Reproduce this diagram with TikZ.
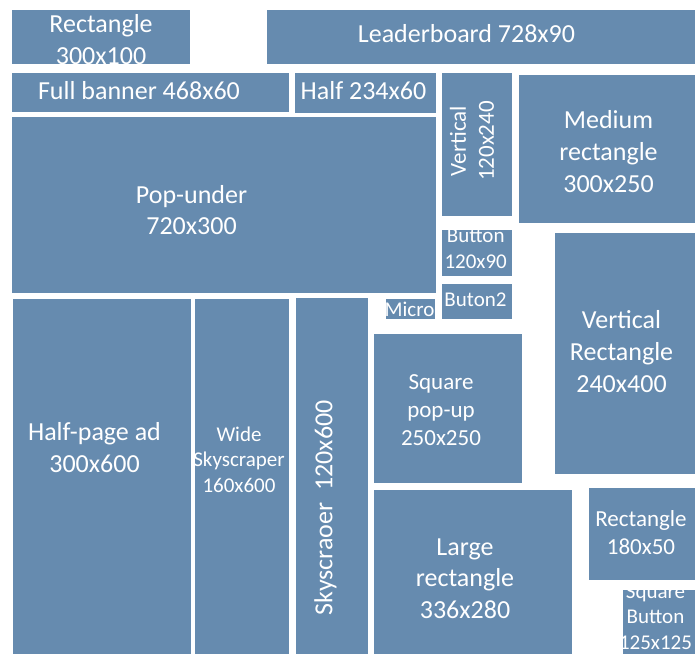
\documentclass[tikz,border=0pt]{standalone}
\usepackage{fontspec}
\setmainfont{Carlito}
\definecolor{Acolor}{RGB}{102, 139, 175}
\def\bigfont{\fontsize{26}{31.7}\selectfont}
\def\midfont{\fontsize{23}{28}\selectfont}
\def\smallfont{\fontsize{21}{25.6}\selectfont}

\begin{document}
\begin{tikzpicture}[x=1pt, y=-1pt,
    ad/.style={shape=rectangle, fill=Acolor, inner sep=0pt},
    adtext/.style={text=white, align=center, inner sep=0pt}]
    \useasboundingbox (0,0) rectangle (695,654);
    % top rows
    \node[ad, minimum width=178pt, minimum height=54pt] (rect30) at (101, 37) {};
    \node[ad, minimum width=428pt, minimum height=54pt] (leader) at (481, 37) {};
    \node[ad, minimum width=277pt, minimum height=39pt] (fullban) at (150.5, 92.5) {};
    \node[ad, minimum width=141pt, minimum height=40pt] (half) at (365.5, 93) {};
    \node[ad, minimum width=424pt, minimum height=176pt] (popunder) at (224, 205) {};
    \node[adtext, font=\bigfont] (rect30t) at (101, 39.5) {Rectangle\\300x100};
    \node[adtext, font=\bigfont] (leadert) at (466.5, 34) {Leaderboard 728x90};
    \node[adtext, font=\bigfont] (fullbant) at (139, 91) {Full banner 468x60};
    \node[adtext, font=\bigfont] (halft) at (363.5, 91) {Half 234x60};
    \node[adtext, font=\bigfont] (popundert) at (191.5, 210) {Pop-under\\720x300};
    % small column
    \node[ad, minimum width=70pt, minimum height=143pt] (vert) at (477, 144.5) {};
    \node[ad, minimum width=70pt, minimum height=46pt] (button) at (477, 253) {};
    \node[ad, minimum width=70pt, minimum height=35pt] (buton2) at (477, 301.5) {};
    \node[ad, minimum width=49pt, minimum height=20pt] (micro) at (410.5, 309) {};
    \node[adtext, font=\midfont, rotate=90] (vertt) at (472, 141) {Vertical\\120x240};
    \node[adtext, font=\smallfont] (buttont) at (475.7, 249) {Button\\120x90};
    \node[adtext, font=\smallfont] (buton2t) at (475.5, 299.5) {Buton2};
    \node[adtext, font=\smallfont] (microt) at (409.5, 309.5) {Micro};
    % right side
    \node[ad, minimum width=176pt, minimum height=148pt] (medium) at (607, 149) {};
    \node[ad, minimum width=140pt, minimum height=241pt] (vrect) at (625, 353.5) {};
    \node[ad, minimum width=106pt, minimum height=92pt] (rect18) at (642, 534) {};
    \node[ad, minimum width=72pt, minimum height=64pt] (sqbtn) at (659, 622) {};
    \node[adtext, font=\bigfont] (mediumt) at (608.5, 151.5) {Medium\\rectangle\\300x250};
    \node[adtext, font=\bigfont] (vrectt) at (621.5, 351.5) {Vertical\\Rectangle\\240x400};
    \node[adtext, font=\midfont] (rect18t) at (641, 532.5) {Rectangle\\180x50};
    \node[adtext, font=\smallfont] (sqbtnt) at (655.5, 617) {Square\\Button\\125x125};
    % skyscrapers
    \node[ad, minimum width=178pt, minimum height=355pt] (halfpage) at (102, 476.5) {};
    \node[ad, minimum width=94pt, minimum height=355pt] (widesky) at (242, 476.5) {};
    \node[ad, minimum width=72pt, minimum height=356pt] (sky) at (332, 476) {};
    \node[adtext, font=\bigfont] (halfpaget) at (94.5, 447.5) {Half-page ad\\300x600};
    \node[adtext, font=\smallfont] (wideskyt) at (239, 459.5) {Wide\\Skyscraper\\160x600};
    \node[adtext, font=\bigfont, rotate=90] (skyt) at (325.5, 508) {Skyscraoer\ \ 120x600};
    % squares
    \node[ad, minimum width=148pt, minimum height=149pt] (sqpop) at (448, 408.5) {};
    \node[ad, minimum width=198pt, minimum height=164pt] (large) at (473, 572) {};
    \node[adtext, font=\midfont] (sqpopt) at (441, 410) {Square\\pop-up\\250x250};
    \node[adtext, font=\bigfont] (larget) at (465, 578.5) {Large\\rectangle\\336x280};
\end{tikzpicture}
\end{document}
